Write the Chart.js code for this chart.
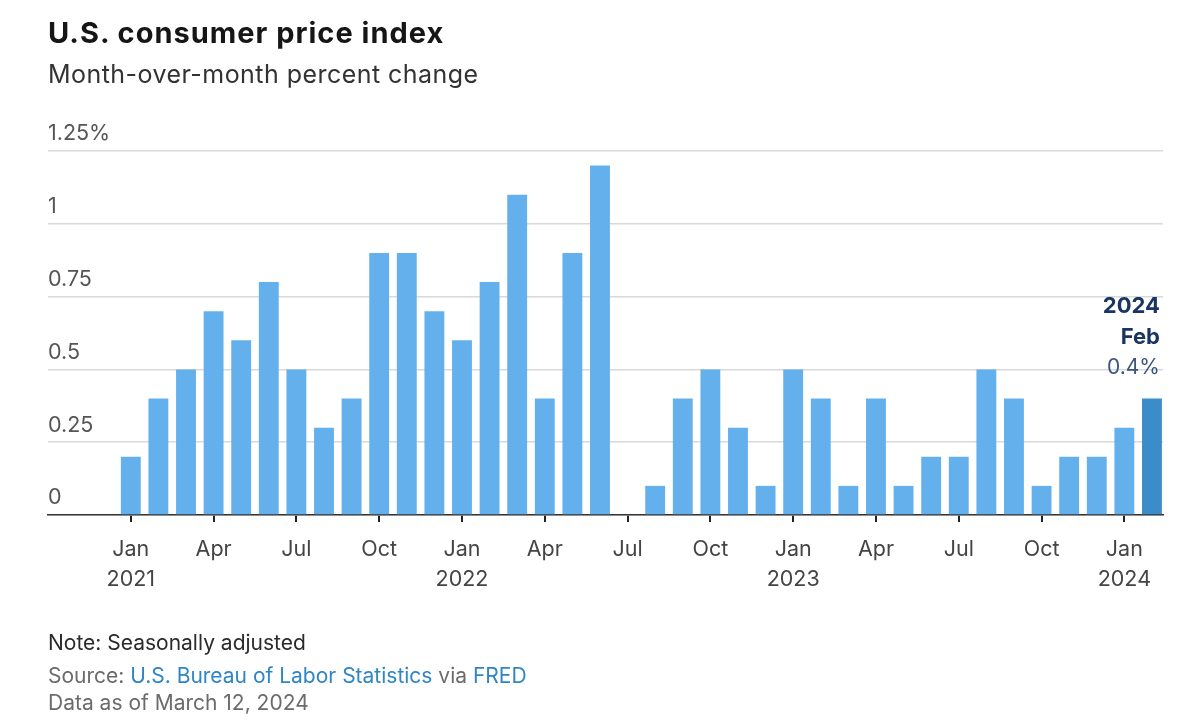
<!DOCTYPE html>
<html>
<head>
<meta charset="utf-8">
<script src="https://cdn.jsdelivr.net/npm/chart.js@4.4.1/dist/chart.umd.min.js"></script>
<style>
html,body{margin:0;padding:0;background:#fff;}
body{width:1200px;height:720px;position:relative;overflow:hidden;font-family:Inter,Lato,sans-serif;}
#cwrap{position:absolute;left:0;top:0;width:1200px;height:720px;}
.t{position:absolute;left:48px;white-space:nowrap;}
#title{top:15px;height:36px;line-height:36px;font-size:29px;letter-spacing:1px;font-weight:700;color:#161616;}
#sub{top:59px;height:30px;line-height:30px;font-size:25px;letter-spacing:0.45px;color:#333;}
#note{top:630px;height:26px;line-height:26px;font-size:21px;color:#2b2b2b;}
#src{top:663px;height:26px;line-height:26px;font-size:21px;color:#6b6b6b;}
#src a{color:#2f86c6;text-decoration:none;}
#asof{top:690px;height:26px;line-height:26px;font-size:21px;color:#6b6b6b;}
</style>
</head>
<body>
<div id="cwrap"><canvas id="c" width="1200" height="720"></canvas></div>
<div class="t" id="title">U.S. consumer price index</div>
<div class="t" id="sub">Month-over-month percent change</div>
<div class="t" id="note">Note: Seasonally adjusted</div>
<div class="t" id="src">Source: <a>U.S. Bureau of Labor Statistics</a> via <a>FRED</a></div>
<div class="t" id="asof">Data as of March 12, 2024</div>
<script>
// ---- data ----
const categories = [
  "Jan 2021","Feb 2021","Mar 2021","Apr 2021","May 2021","Jun 2021","Jul 2021","Aug 2021","Sep 2021","Oct 2021","Nov 2021","Dec 2021",
  "Jan 2022","Feb 2022","Mar 2022","Apr 2022","May 2022","Jun 2022","Jul 2022","Aug 2022","Sep 2022","Oct 2022","Nov 2022","Dec 2022",
  "Jan 2023","Feb 2023","Mar 2023","Apr 2023","May 2023","Jun 2023","Jul 2023","Aug 2023","Sep 2023","Oct 2023","Nov 2023","Dec 2023",
  "Jan 2024","Feb 2024"
];
const cpiChange = [
  0.2,0.4,0.5,0.7,0.6,0.8,0.5,0.3,0.4,0.9,0.9,0.7,
  0.6,0.8,1.1,0.4,0.9,1.2,0.0,0.1,0.4,0.5,0.3,0.1,
  0.5,0.4,0.1,0.4,0.1,0.2,0.2,0.5,0.4,0.1,0.2,0.2,
  0.3,0.4
];
const tickMonths = ["Jan","Apr","Jul","Oct"];
const yTickLabels = ["0","0.25","0.5","0.75","1","1.25%"];
const yTickValues = [0,0.25,0.5,0.75,1,1.25];

// ---- styles ----
const FONT = "Inter, Lato, sans-serif";
const barColor = "#63b0ec";
const lastBarColor = "#3a8dc8";
const lastIdx = cpiChange.length - 1;

const xTickIdx = categories.map((c,i)=>i).filter(i => tickMonths.includes(categories[i].split(" ")[0]));

const annotate = {
  id: "annotate",
  afterDatasetsDraw(chart) {
    const el = chart.getDatasetMeta(0).data[lastIdx];
    const ctx = chart.ctx;
    const xr = el.x + el.width/2 - 2;
    const parts = categories[lastIdx].split(" ");
    ctx.save();
    ctx.textAlign = "right";
    ctx.textBaseline = "middle";
    ctx.fillStyle = "#1b3563";
    ctx.font = "bold 22px " + FONT;
    ctx.fillText(parts[1], xr, el.y - 92);
    ctx.fillText(parts[0], xr, el.y - 61);
    ctx.fillStyle = "#3b557c";
    ctx.font = "21px " + FONT;
    ctx.fillText(cpiChange[lastIdx].toFixed(1) + "%", xr, el.y - 31);
    ctx.restore();
  }
};

new Chart(document.getElementById("c"), {
  type: "bar",
  data: {
    datasets: [{
      data: cpiChange.map((v,i)=>({x:i, y:v})),
      backgroundColor: cpiChange.map((v,i)=> i===lastIdx ? lastBarColor : barColor),
      borderWidth: 0,
      barPercentage: 0.72,
      categoryPercentage: 1.0
    }]
  },
  options: {
    responsive: false,
    animation: false,
    events: [],
    layout: { padding: { left: 48, right: 37, top: 151, bottom: 0 } },
    plugins: { legend: { display: false }, tooltip: { enabled: false } },
    scales: {
      x: {
        type: "linear",
        min: -3, max: 37.4,
        offset: false,
        afterBuildTicks: s => { s.ticks = xTickIdx.map(v => ({ value: v })); },
        afterFit: s => { s.height = 205; },
        grid: { display: true, drawOnChartArea: false, drawTicks: true, tickLength: 7, color: "#222", lineWidth: 2, offset: false },
        border: { display: true, color: "#333", width: 1.5 },
        ticks: {
          autoSkip: false, maxRotation: 0, padding: 12,
          color: "#444",
          font: { family: FONT, size: 21.5, lineHeight: 1.42 },
          callback: v => {
            const c = categories[v];
            if (!c) return "";
            const [m, y] = c.split(" ");
            return m === "Jan" ? [m, y] : m;
          }
        }
      },
      y: {
        min: 0, max: 1.25,
        afterBuildTicks: s => { s.ticks = yTickValues.map(v => ({ value: v })); },
        grid: { color: "#d9d9d9", lineWidth: 1.5, drawTicks: false },
        border: { display: false },
        ticks: {
          mirror: true, padding: 0, labelOffset: -17,
          color: "#555",
          font: { family: FONT, size: 21.5 },
          callback: v => yTickLabels[yTickValues.indexOf(v)]
        }
      }
    }
  },
  plugins: [annotate]
});
</script>
</body>
</html>
